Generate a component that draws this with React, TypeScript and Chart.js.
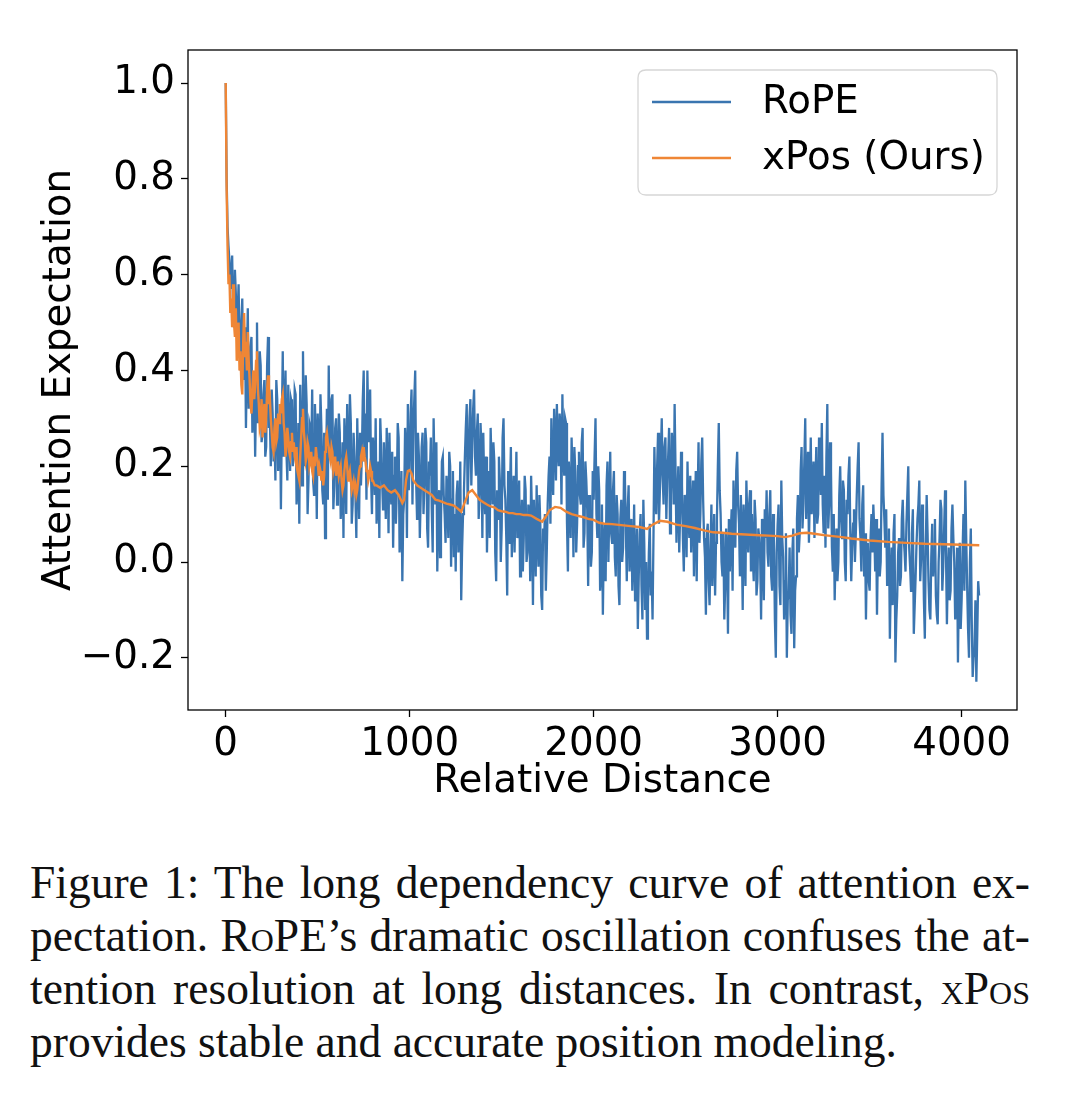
import React, { useEffect, useRef } from 'react';
import { Chart, registerables } from 'chart.js';

Chart.register(...registerables);

// ---------------- data ----------------
const seriesLabels = ['RoPE', 'xPos (Ours)'];
const xAxisTitle = 'Relative Distance';
const yAxisTitle = 'Attention Expectation';
const xTickValues = [0, 1000, 2000, 3000, 4000];
const yTickValues = [-0.2, 0.0, 0.2, 0.4, 0.6, 0.8, 1.0];

// RoPE: values at distances 0, 10, 20, ... (ROPE_STEP)
const ROPE_STEP = 10;
const ropeValues = [
  1.00, 0.70, 0.63, 0.60, 0.52, 0.61, 0.47, 0.58, 0.40, 0.55, 0.44, 0.28, 0.53, 0.36, 0.47, 0.31, 0.22, 0.50, 0.33, 0.41,
  0.27, 0.38, 0.24, 0.47, 0.30, 0.36, 0.21, 0.17, 0.34, 0.26, 0.11, 0.44, 0.31, 0.23, 0.37, 0.19, 0.33, 0.25, 0.35, 0.15,
  0.08, 0.30, 0.44, 0.20, 0.33, 0.17, 0.28, 0.36, 0.14, 0.25, 0.31, 0.18, 0.28, 0.12, 0.05, 0.32, 0.41, 0.26, 0.35, 0.16,
  0.30, 0.20, 0.27, 0.13, 0.05, 0.24, 0.33, 0.17, 0.29, 0.12, 0.22, 0.05, 0.18, 0.27, 0.22, 0.40, 0.31, 0.40, 0.25, 0.18,
  0.26, 0.14, 0.08, 0.21, 0.30, 0.17, 0.25, 0.09, 0.20, 0.27, 0.12, 0.03, 0.22, 0.15, 0.26, 0.06, -0.04, 0.13, 0.24, 0.33,
  0.20, 0.36, 0.28, 0.40, 0.09, 0.22, 0.14, 0.27, 0.16, 0.25, 0.03, 0.18, 0.11, 0.30, 0.12, -0.02, 0.15, 0.08, 0.22, 0.10,
  0.18, 0.05, 0.20, 0.13, 0.01, -0.02, 0.17, 0.06, -0.08, 0.10, 0.22, 0.33, 0.20, 0.34, 0.25, 0.36, 0.18, 0.31, 0.14, 0.24,
  0.27, 0.10, 0.02, 0.19, 0.28, 0.12, 0.21, -0.04, 0.09, 0.17, 0.07, 0.30, 0.13, -0.07, 0.04, 0.24, 0.11, 0.02, 0.23, 0.08,
  -0.03, 0.13, 0.05, 0.15, 0.02, 0.10, 0.18, -0.09, 0.06, 0.16, -0.01, 0.08, -0.10, 0.04, -0.06, 0.12, 0.22, 0.30, 0.14, 0.26,
  0.33, 0.20, 0.28, 0.35, 0.18, 0.29, -0.02, 0.15, 0.26, 0.01, 0.19, 0.08, 0.23, 0.12, 0.28, 0.06, 0.17, -0.05, 0.10, 0.02,
  0.13, 0.30, 0.05, 0.15, -0.02, -0.11, 0.08, 0.16, 0.00, 0.23, 0.04, 0.19, -0.03, 0.10, -0.09, 0.13, 0.03, 0.17, -0.04, 0.16,
  0.05, -0.06, 0.12, -0.02, -0.14, 0.06, -0.05, 0.13, -0.10, -0.16, 0.02, -0.07, -0.12, 0.24, 0.10, 0.27, 0.15, 0.30, 0.12, 0.26,
  0.18, 0.28, 0.14, 0.22, 0.33, 0.04, 0.20, 0.10, 0.16, -0.02, 0.12, 0.21, 0.05, 0.02, 0.17, 0.08, -0.04, 0.25, 0.10, 0.26,
  0.05, -0.11, 0.08, -0.09, 0.12, 0.02, -0.07, 0.09, 0.29, 0.10, -0.03, -0.12, 0.07, -0.15, -0.02, 0.11, 0.17, 0.03, 0.23, 0.08,
  0.14, -0.10, 0.06, 0.17, 0.02, 0.15, 0.10, -0.04, 0.09, -0.04, 0.05, -0.12, 0.03, 0.11, 0.15, -0.01, 0.15, -0.06, 0.05, -0.20,
  0.08, -0.05, 0.17, 0.01, -0.04, -0.20, -0.06, -0.11, 0.02, -0.18, -0.03, 0.14, 0.06, 0.24, 0.12, 0.30, 0.18, 0.04, 0.26, 0.15,
  0.05, 0.24, 0.10, 0.20, 0.29, 0.06, 0.03, 0.33, 0.12, 0.19, -0.02, -0.08, 0.07, 0.00, 0.20, 0.05, 0.15, -0.04, 0.10, 0.22,
  -0.04, 0.08, 0.00, 0.14, 0.25, 0.05, 0.12, -0.03, -0.12, 0.04, -0.06, 0.10, 0.12, -0.02, -0.11, 0.07, 0.00, 0.27, 0.09, 0.11,
  -0.02, -0.16, 0.03, 0.06, -0.21, -0.07, 0.05, -0.03, 0.13, 0.02, 0.08, 0.20, -0.01, 0.06, -0.15, -0.03, 0.09, 0.17, 0.01, 0.07,
  -0.16, 0.14, -0.04, -0.12, 0.08, 0.02, -0.07, -0.13, 0.05, 0.11, -0.01, 0.15, -0.13, 0.03, -0.06, 0.12, 0.00, -0.09, -0.21, 0.04,
  -0.08, 0.10, 0.17, -0.05, -0.20, 0.07, -0.24, -0.18, -0.25, -0.04,
];
// RoPE: values at the half-way distances 5, 15, 25, ...
const ropeMidValues = [
  0.80, 0.66, 0.57, 0.64, 0.49, 0.56, 0.52, 0.45, 0.50, 0.38, 0.49, 0.41, 0.32, 0.45, 0.27, 0.39, 0.35, 0.29, 0.44, 0.25,
  0.35, 0.22, 0.41, 0.28, 0.20, 0.31, 0.27, 0.38, 0.19, 0.33, 0.29, 0.22, 0.40, 0.17, 0.28, 0.34, 0.20, 0.36, 0.12, 0.29,
  0.37, 0.16, 0.26, 0.39, 0.10, 0.29, 0.22, 0.17, 0.33, 0.09, 0.24, 0.35, 0.15, 0.27, 0.20, 0.13, 0.23, 0.34, 0.11, 0.28,
  0.12, 0.31, 0.09, 0.25, 0.30, 0.10, 0.21, 0.35, 0.08, 0.27, 0.14, 0.30, 0.09, 0.16, 0.34, 0.21, 0.13, 0.29, 0.36, 0.10,
  0.22, 0.30, 0.12, 0.05, 0.24, 0.11, 0.18, 0.28, 0.06, 0.16, 0.23, 0.18, 0.08, 0.29, 0.02, 0.19, 0.10, 0.28, 0.05, 0.15,
  0.31, 0.12, 0.34, 0.17, 0.27, 0.05, 0.24, 0.10, 0.28, 0.07, 0.21, 0.26, 0.02, 0.19, 0.25, 0.10, 0.01, 0.21, 0.14, 0.04,
  0.13, 0.23, -0.01, 0.19, 0.10, 0.14, 0.02, 0.21, 0.03, 0.15, 0.28, 0.12, 0.30, 0.16, 0.32, 0.22, 0.27, 0.09, 0.29, 0.05,
  0.16, 0.22, 0.13, 0.05, 0.20, 0.25, 0.02, 0.15, 0.22, 0.00, 0.26, 0.16, 0.05, 0.19, 0.14, 0.01, 0.18, 0.13, 0.05, 0.17,
  0.07, -0.02, 0.18, 0.00, 0.12, -0.04, 0.09, 0.13, -0.03, 0.05, 0.14, -0.07, 0.07, 0.10, 0.02, 0.18, 0.08, 0.19, 0.32, 0.17,
  0.24, 0.31, 0.12, 0.23, 0.30, 0.08, 0.21, 0.05, 0.18, 0.24, 0.02, 0.20, 0.14, 0.25, 0.03, 0.21, 0.11, 0.14, -0.01, 0.19,
  0.22, 0.10, 0.20, -0.06, 0.12, 0.04, -0.04, 0.21, 0.11, 0.06, 0.15, 0.01, 0.14, -0.05, 0.09, 0.00, 0.19, 0.07, 0.11, -0.02,
  0.09, 0.01, -0.08, 0.07, -0.03, 0.10, -0.12, 0.04, 0.00, -0.09, 0.08, -0.02, 0.05, 0.14, 0.20, 0.08, 0.22, 0.18, 0.24, 0.09,
  0.22, 0.06, 0.27, 0.12, 0.19, 0.13, 0.02, 0.23, 0.05, 0.14, 0.01, 0.10, 0.18, 0.11, -0.03, 0.19, 0.13, 0.04, 0.21, 0.13,
  0.01, 0.06, -0.04, 0.03, -0.05, 0.10, 0.04, 0.20, 0.15, 0.00, 0.06, -0.05, 0.01, 0.09, 0.06, -0.06, 0.08, 0.19, 0.12, -0.03,
  0.05, 0.12, -0.05, 0.09, 0.12, -0.02, 0.01, 0.13, -0.07, 0.07, 0.01, 0.09, -0.08, 0.05, 0.02, 0.10, -0.03, 0.10, -0.12, 0.02,
  0.12, -0.09, 0.05, -0.12, 0.06, -0.08, 0.03, -0.15, 0.07, -0.06, 0.09, 0.02, 0.19, 0.07, 0.21, 0.09, 0.23, 0.14, 0.10, 0.21,
  0.16, 0.08, 0.26, 0.14, 0.12, 0.18, 0.22, 0.07, 0.25, 0.03, 0.10, 0.02, -0.04, 0.14, 0.09, 0.17, 0.00, 0.13, 0.18, 0.06,
  0.03, 0.11, 0.06, 0.20, 0.09, -0.02, 0.16, 0.06, 0.01, -0.04, 0.05, 0.02, 0.07, 0.09, 0.03, -0.03, 0.16, 0.14, 0.03, -0.05,
  0.07, -0.04, -0.09, 0.10, -0.12, 0.02, -0.05, 0.09, 0.05, -0.02, 0.14, 0.03, -0.06, 0.11, -0.09, 0.04, 0.12, -0.04, 0.12, -0.08,
  0.03, 0.06, -0.10, 0.01, -0.03, 0.09, -0.11, 0.00, 0.13, -0.06, 0.07, 0.02, -0.02, -0.08, 0.07, 0.05, -0.12, 0.03, -0.05, -0.14,
  0.02, -0.06, 0.05, -0.14, 0.00, -0.12, -0.20, -0.08, -0.15, -0.07,
];

// xPos: dense part at distances 0, 5, 10, ... 795
const XPOS_DENSE_STEP = 5;
const xposDenseValues = [
  1.00, 0.78, 0.66, 0.58, 0.60, 0.52, 0.55, 0.49, 0.58, 0.50, 0.47, 0.53, 0.42, 0.48, 0.50, 0.40, 0.44, 0.37, 0.35, 0.46,
  0.52, 0.43, 0.46, 0.40, 0.48, 0.42, 0.38, 0.33, 0.31, 0.36, 0.40, 0.34, 0.37, 0.42, 0.44, 0.36, 0.33, 0.28, 0.29, 0.34,
  0.26, 0.30, 0.33, 0.27, 0.30, 0.36, 0.39, 0.33, 0.34, 0.30, 0.27, 0.24, 0.23, 0.28, 0.30, 0.25, 0.26, 0.31, 0.29, 0.33,
  0.31, 0.34, 0.35, 0.29, 0.27, 0.22, 0.24, 0.28, 0.26, 0.23, 0.22, 0.25, 0.27, 0.23, 0.25, 0.22, 0.21, 0.24, 0.19, 0.18,
  0.17, 0.22, 0.26, 0.30, 0.32, 0.27, 0.25, 0.21, 0.22, 0.25, 0.24, 0.20, 0.21, 0.23, 0.19, 0.18, 0.22, 0.20, 0.24, 0.22,
  0.21, 0.18, 0.20, 0.19, 0.17, 0.19, 0.16, 0.18, 0.23, 0.26, 0.27, 0.25, 0.24, 0.22, 0.21, 0.24, 0.23, 0.19, 0.20, 0.22,
  0.18, 0.20, 0.21, 0.18, 0.19, 0.20, 0.17, 0.15, 0.16, 0.19, 0.21, 0.22, 0.20, 0.17, 0.18, 0.19, 0.17, 0.15, 0.16, 0.17,
  0.15, 0.16, 0.14, 0.15, 0.17, 0.19, 0.20, 0.22, 0.23, 0.21, 0.24, 0.22, 0.21, 0.19, 0.19, 0.17, 0.18, 0.20, 0.19, 0.17,
];
// xPos: smooth tail, explicit distances and values
const xposTailDistances = [
  800, 810, 820, 840, 860, 880, 900, 920, 940, 960, 970, 980, 990, 1000, 1010, 1020, 1040, 1060, 1080, 1100,
  1120, 1140, 1160, 1180, 1200, 1220, 1240, 1260, 1280, 1300, 1320, 1340, 1360, 1380, 1400, 1420, 1440, 1460, 1480, 1500,
  1520, 1540, 1560, 1580, 1600, 1620, 1640, 1660, 1690, 1720, 1740, 1760, 1790, 1820, 1850, 1880, 1910, 1940, 1970, 2000,
  2030, 2060, 2100, 2150, 2200, 2250, 2290, 2320, 2360, 2400, 2450, 2500, 2550, 2600, 2650, 2700, 2750, 2800, 2850, 2900,
  2950, 3000, 3040, 3080, 3120, 3160, 3200, 3250, 3300, 3350, 3400, 3450, 3500, 3600, 3700, 3800, 3900, 4000, 4096,
];
const xposTailValues = [
  0.17, 0.16, 0.16, 0.155, 0.16, 0.15, 0.145, 0.15, 0.14, 0.123, 0.13, 0.17, 0.19, 0.192, 0.185, 0.17, 0.16, 0.155, 0.15, 0.145,
  0.14, 0.13, 0.128, 0.125, 0.122, 0.12, 0.118, 0.112, 0.105, 0.125, 0.145, 0.15, 0.14, 0.13, 0.125, 0.12, 0.116, 0.114, 0.108, 0.106,
  0.105, 0.102, 0.102, 0.10, 0.10, 0.098, 0.098, 0.097, 0.09, 0.084, 0.095, 0.108, 0.115, 0.113, 0.105, 0.10, 0.097, 0.094, 0.09, 0.088,
  0.082, 0.08, 0.079, 0.077, 0.075, 0.073, 0.069, 0.078, 0.086, 0.084, 0.078, 0.075, 0.071, 0.066, 0.062, 0.061, 0.059, 0.058, 0.057, 0.056,
  0.055, 0.054, 0.052, 0.055, 0.06, 0.061, 0.059, 0.056, 0.054, 0.052, 0.049, 0.047, 0.045, 0.042, 0.040, 0.038, 0.037, 0.036, 0.035,
];

// ---------------- styles ----------------
const ROPE_COLOR = '#3a75b0';
const XPOS_COLOR = '#ef8636';
const FONT = 'DejaVu Sans';
const FONT_SIZE = 38.8;
const CANVAS_W = 1080;
const CANVAS_H = 830;

const fmtY = (v: number) => Number(v).toFixed(1).replace('-', '\u2212');

const frameLegendPlugin = {
  id: 'frameLegend',
  afterDraw(chart: any) {
    const { ctx, chartArea: a } = chart;
    ctx.save();
    ctx.strokeStyle = '#000';
    ctx.lineWidth = 1.3;
    ctx.strokeRect(a.left, a.top, a.right - a.left, a.bottom - a.top);

    const bw = 359;
    const bh = 125;
    const bx = a.right - 20 - bw;
    const by = a.top + 20;
    const r = 8;
    ctx.beginPath();
    ctx.moveTo(bx + r, by);
    ctx.lineTo(bx + bw - r, by);
    ctx.quadraticCurveTo(bx + bw, by, bx + bw, by + r);
    ctx.lineTo(bx + bw, by + bh - r);
    ctx.quadraticCurveTo(bx + bw, by + bh, bx + bw - r, by + bh);
    ctx.lineTo(bx + r, by + bh);
    ctx.quadraticCurveTo(bx, by + bh, bx, by + bh - r);
    ctx.lineTo(bx, by + r);
    ctx.quadraticCurveTo(bx, by, bx + r, by);
    ctx.closePath();
    ctx.fillStyle = 'rgba(255,255,255,0.8)';
    ctx.fill();
    ctx.strokeStyle = '#d6d6d6';
    ctx.lineWidth = 1.3;
    ctx.stroke();

    const rows = chart.data.datasets.map((d: any) => ({ label: d.label, color: d.borderColor }));
    rows.forEach((row: any, i: number) => {
      const y = by + 32 + i * 56;
      ctx.beginPath();
      ctx.moveTo(bx + 14, y);
      ctx.lineTo(bx + 93, y);
      ctx.strokeStyle = row.color;
      ctx.lineWidth = 2.5;
      ctx.stroke();
      ctx.fillStyle = '#000';
      ctx.font = `${FONT_SIZE}px "${FONT}"`;
      ctx.textBaseline = 'middle';
      ctx.textAlign = 'left';
      ctx.fillText(row.label, bx + 124, y + 1);
    });
    ctx.restore();
  },
};

function ChartCanvas() {
  const ref = useRef<HTMLCanvasElement | null>(null);

  useEffect(() => {
    if (!ref.current) return;
    const ropePoints: { x: number; y: number }[] = [];
    ropeValues.forEach((v, i) => {
      ropePoints.push({ x: i * ROPE_STEP, y: v });
      if (i < ropeMidValues.length) {
        ropePoints.push({ x: i * ROPE_STEP + ROPE_STEP / 2, y: ropeMidValues[i] });
      }
    });
    const xposPoints = [
      ...xposDenseValues.map((v, i) => ({ x: i * XPOS_DENSE_STEP, y: v })),
      ...xposTailValues.map((v, i) => ({ x: xposTailDistances[i], y: v })),
    ];

    const tickFont = { family: FONT, size: FONT_SIZE };

    const chart = new Chart(ref.current, {
      type: 'line',
      data: {
        datasets: [
          {
            label: seriesLabels[0],
            data: ropePoints,
            borderColor: ROPE_COLOR,
            backgroundColor: ROPE_COLOR,
            borderWidth: 2.3,
            pointRadius: 0,
            tension: 0,
            order: 2,
          },
          {
            label: seriesLabels[1],
            data: xposPoints,
            borderColor: XPOS_COLOR,
            backgroundColor: XPOS_COLOR,
            borderWidth: 2.4,
            pointRadius: 0,
            tension: 0,
            order: 1,
          },
        ],
      },
      options: {
        animation: false,
        responsive: false,
        maintainAspectRatio: false,
        devicePixelRatio: 1,
        events: [],
        layout: { padding: { left: 0, top: 50, right: 63, bottom: 0 } },
        plugins: {
          legend: { display: false },
          tooltip: { enabled: false },
          title: { display: false },
        },
        scales: {
          x: {
            type: 'linear',
            min: -205,
            max: 4301,
            afterBuildTicks: (scale: any) => {
              scale.ticks = xTickValues.map((v) => ({ value: v }));
            },
            afterFit: (scale: any) => {
              scale.height = CANVAS_H - 710;
            },
            ticks: {
              autoSkip: false,
              maxRotation: 0,
              minRotation: 0,
              padding: 5,
              color: '#000',
              font: tickFont,
              callback: (v: any) => String(v),
            },
            grid: {
              display: true,
              drawOnChartArea: false,
              drawTicks: true,
              tickLength: 7,
              tickWidth: 1.3,
              tickColor: '#000',
            },
            border: { display: false },
            title: {
              display: true,
              text: xAxisTitle,
              color: '#000',
              font: tickFont,
              padding: { top: 0, bottom: 25 },
            },
          },
          y: {
            type: 'linear',
            min: -0.309,
            max: 1.069,
            afterBuildTicks: (scale: any) => {
              scale.ticks = yTickValues.map((v) => ({ value: v }));
            },
            afterFit: (scale: any) => {
              scale.width = 188;
            },
            ticks: {
              autoSkip: false,
              padding: 6,
              color: '#000',
              font: tickFont,
              callback: (v: any) => fmtY(v),
            },
            grid: {
              display: true,
              drawOnChartArea: false,
              drawTicks: true,
              tickLength: 7,
              tickWidth: 1.3,
              tickColor: '#000',
            },
            border: { display: false },
            title: {
              display: true,
              text: yAxisTitle,
              color: '#000',
              font: tickFont,
              padding: { top: 37, bottom: 0 },
            },
          },
        },
      },
      plugins: [frameLegendPlugin],
    } as any);

    return () => chart.destroy();
  }, []);

  return (
    <canvas
      ref={ref}
      width={CANVAS_W}
      height={CANVAS_H}
      style={{ display: 'block', width: CANVAS_W, height: CANVAS_H }}
    />
  );
}

const sc: React.CSSProperties = { fontVariant: 'small-caps' };
const just: React.CSSProperties = { textAlign: 'justify', textAlignLast: 'justify' };

export default function App() {
  return (
    <div
      style={{
        position: 'absolute',
        left: 0,
        top: 0,
        width: 1080,
        height: 1112,
        background: '#fff',
        overflow: 'hidden',
      }}
    >
      <ChartCanvas />
      <div
        style={{
          position: 'absolute',
          left: 30,
          top: 856,
          width: 1000,
          fontFamily: '"Liberation Serif", "Times New Roman", serif',
          fontSize: 45.5,
          lineHeight: '53px',
          color: '#111',
        }}
      >
        <div style={just}>Figure 1: The long dependency curve of attention ex-</div>
        <div style={just}>
          pectation. <span style={sc}>RoPE</span>’s dramatic oscillation confuses the at-
        </div>
        <div style={just}>
          tention resolution at long distances. In contrast, <span style={sc}>xPos</span>
        </div>
        <div style={{ textAlign: 'left' }}>provides stable and accurate position modeling.</div>
      </div>
    </div>
  );
}
